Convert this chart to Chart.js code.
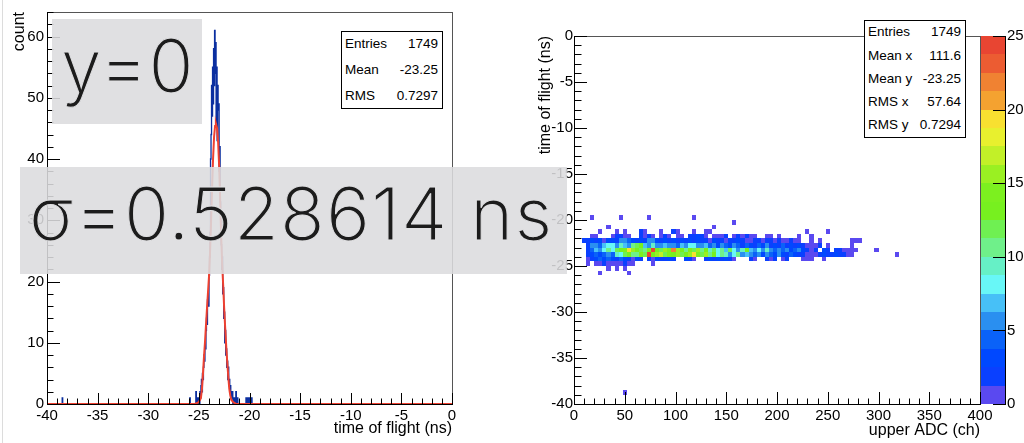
<!DOCTYPE html>
<html>
<head>
<meta charset="utf-8">
<script src="https://cdn.jsdelivr.net/npm/chart.js@4.4.1/dist/chart.umd.min.js"></script>
<style>
  body { margin: 0; background: #fff; width: 1024px; height: 443px; overflow: hidden; position: relative; font-family: "Liberation Sans", Arial, sans-serif; }
  canvas { position: absolute; top: 0; }
  #tofHist { left: 0; }
  #tofAdc { left: 520px; }
  .padline { position: absolute; left: 2px; top: 0; width: 1px; height: 443px; background: #dcdcdc; }
  .stats { position: absolute; box-sizing: border-box; background: #fff; border: 1px solid #000; font-size: 13.5px; color: #000; z-index: 2; }
  .stats div { position: absolute; left: 3px; right: 4px; height: 16px; line-height: 16px; white-space: nowrap; }
  .stats span { position: absolute; right: 0; }
  .tag { position: absolute; background: rgba(220, 220, 222, 0.88); z-index: 3; }
  .tag span { position: absolute; top: 10px; left: 9px; font-family: Inter, Roboto, sans-serif; font-weight: 300; font-size: 73px; line-height: 1; color: #1c1c1c; white-space: nowrap; -webkit-text-stroke: 1px #e0e0e2; }
</style>
</head>
<body>
<div class="padline"></div>
<canvas id="tofHist" width="520" height="443"></canvas>
<canvas id="tofAdc" width="504" height="443"></canvas>

<div class="stats" style="left:341px;top:31px;width:102px;height:78px">
  <div style="top:4px">Entries<span>1749</span></div>
  <div style="top:30px">Mean<span>-23.25</span></div>
  <div style="top:56px">RMS<span>0.7297</span></div>
</div>
<div class="stats" style="left:864px;top:20px;width:102px;height:118px">
  <div style="top:3px">Entries<span>1749</span></div>
  <div style="top:27px">Mean x<span>111.6</span></div>
  <div style="top:50px">Mean y<span>-23.25</span></div>
  <div style="top:73px">RMS x<span>57.64</span></div>
  <div style="top:96px">RMS y<span>0.7294</span></div>
</div>

<div class="tag" style="left:52px;top:19px;width:150px;height:105px"><span style="letter-spacing:1px">y=0</span></div>
<div class="tag" style="left:20px;top:167px;width:547px;height:107px"><span style="letter-spacing:1.3px">σ=0.528614 ns</span></div>

<script>
// ---- left pad: time of flight histogram (0.05 ns bins from -26 ns) ----
const tofStart = -26.0;
const tofBinWidth = 0.05;
const tofCounts = [
  0, 0, 1, 0, 0, 0, 0, 0, 0, 0,
  0, 0, 0, 0, 2, 1, 0, 1, 0, 0,
  1, 0, 2, 1, 3, 4, 2, 5, 4, 6,
  8, 7, 10, 9, 12, 14, 13, 17, 18, 16,
  21, 24, 28, 40, 44, 52, 47, 55, 49, 58,
  52, 61, 54, 59, 46, 55, 43, 52, 48, 49,
  38, 42, 33, 30, 26, 22, 24, 18, 19, 14,
  15, 10, 12, 8, 9, 6, 7, 4, 6, 3,
  4, 2, 3, 1, 2, 1, 2, 0, 1, 0,
  1, 0, 0, 2, 1, 0, 1, 0, 0, 0,
  0, 0, 0, 0, 0, 0, 0, 0, 0, 0,
  0, 0, 0, 1, 0, 0, 1, 0, 1, 0,
  0, 1, 1, 0, 1, 0, 0, 0, 0, 0
];
// lone entries far from the peak
const tofStrayX = [-38.5];
const tofStrayCounts = [1];

// gaussian fit curve
const fitX = [-40, -25.4, -25.1, -24.9, -24.8, -24.7, -24.6, -24.5, -24.4, -24.3, -24.2, -24.1, -24.0,
  -23.9, -23.8, -23.7, -23.6, -23.5, -23.4, -23.32, -23.2, -23.1, -23.0, -22.9, -22.8, -22.7,
  -22.6, -22.5, -22.4, -22.3, -22.2, -22.1, -22.0, -21.9, -21.8, -21.6, -21.3, 0];
const fitY = [0, 0, 0.2, 0.6, 1.0, 2.4, 4.8, 7.6, 10.0, 12.8, 15.6, 18.2, 20.8,
  24.6, 29.5, 35.0, 40.0, 43.6, 45.4, 45.8, 45.0, 42.8, 39.0, 33.5, 27.5, 22.8,
  19.4, 15.6, 12.4, 9.4, 6.9, 4.6, 2.5, 1.4, 0.7, 0.3, 0, 0];

// ---- right pad: time of flight vs upper ADC, 4 ch x 0.5 ns cells ----
const adcBinWidth = 4;
const tofCellHeight = 0.5;
// lower edge (ns) of each row below, one count per 4 ch bin starting at 0 ch
const rowLowEdges = [-20, -20.5, -21, -21.5, -22, -22.5, -23, -23.5, -24, -24.5, -25, -25.5, -26, -39];
const rowA = [0,0,0,0,1,0,0,0,0,0, 0,1,0,0,0,0,0,0,1,0, 0,0,0,0,0,0,0,0,0,1];
const rowB = [0,0,0,0,0,0,0,0,0,0, 0,0,0,0,0,0,0,0,0,0, 0,0,0,0,0,0,0,0,0,0, 0,0,0,0,0,0,0,0,0,1];
const rowC = [0,0,0,0,0,0,0,0,1,0, 0,0,0,0,0,0,0,0,0,0, 0,0,0,0,0,0,0,0,0,0, 0,0,0,0,1];
const rowD = [0,0,0,0,0,0,1,0,0,0, 1,0,1,0,0,0,2,1,0,0, 0,1,0,0,2,1,0,0,0,1,
  0,0,1,1,0,0,0,0,0,0, 0,0,0,0,0,0,0,0,0,0, 0,0,0,0,0,0,0,1,0,0, 0,0,1];
const rowE = [0,0,0,0,1,1,0,0,0,1, 2,2,1,1,0,0,2,1,2,1, 0,1,2,1,0,1,1,0,2,2,
  3,2,1,0,1,1,1,2,0,1, 2,1,2,1,1,0,0,1,1,0, 1,0,0,0,0,1,0,0,1];
const rowF = [0,0,2,2,3,2,3,1,3,3, 2,5,6,4,3,2,3,2,5,5, 3,2,3,2,3,2,3,2,3,2,
  3,2,2,1,3,2,2,1,2,2, 3,2,1,1,2,2,1,2,2,1, 2,1,1,2,1,1,0,0,1,0, 1,0,0,0,0,0,0,0,1,1, 1];
const rowG = [0,0,0,2,5,6,4,7,8,8, 5,9,7,6,10,12,13,7,6,9, 6,5,7,5,6,4,7,5,8,8,
  6,5,7,4,5,3,6,4,3,5, 4,2,4,3,2,4,3,5,2,3, 2,4,2,3,2,3,2,1,1,1, 2,0,1,0,0,0,0,0,1];
const rowH = [0,0,0,2,4,7,6,8,10,8, 12,13,14,19,15,13,12,10,14,24, 13,12,16,14,22,15,13,10,14,12,
  15,11,13,9,12,8,10,7,12,8, 6,9,13,7,5,8,6,9,5,4, 6,4,5,3,4,6,3,2,1,2, 0,3,2,0,2,2,1,1,1,1,
  0,0,0,0,1];
const rowI = [0,0,0,2,3,4,3,4,5,4, 9,8,12,13,10,11,14,12,24,13, 15,17,12,14,13,15,12,13,16,19,
  14,12,15,10,13,8,11,9,6,8, 10,5,7,6,4,6,3,5,4,3, 5,3,2,4,3,2,2,1,1,1, 2,3,2,2,3,2,2,1,1,0,
  0,0,0,0,0,0,0,0,0,1];
const rowJ = [0,0,0,1,2,3,4,3,4,3, 2,4,3,2,1,3,2,0,2,1, 3,2,2,3,2,0,0,3,2,1,
  0,0,2,3,2,3,2,3,2,1, 0,0,0,2,1,0,0,2,1,2, 0,1,2,0,0,0,1,1,1,0, 0,1];
const rowK = [0,0,0,1,0,1,1,2,1,1, 1,1,2,1,1,0,0,0,0,1];
const rowL = [0,0,0,0,0,0,0,0,1,0, 1,0,1];
const rowM = [0,0,0,0,0,0,1,0,0,0, 0,0,0,1];
const rowN = [0,0,0,0,0,0,0,0,0,0, 0,0,1];
const cellRows = [rowA, rowB, rowC, rowD, rowE, rowF, rowG, rowH, rowI, rowJ, rowK, rowL, rowM, rowN];

// colour palette, 20 levels over 0..25
const paletteMax = 25;
const paletteColors = ['#5a49f0', '#0a40ff', '#0048ff', '#0a62f8', '#2a8ff0', '#47c0f7', '#68f7f7', '#66f0c6',
  '#6ff08a', '#6ff052', '#77f01f', '#7cf01f', '#9af022', '#c2f028', '#e8f02e', '#f8e030',
  '#f4a230', '#f08232', '#ec5c32', '#e84532'];

Chart.defaults.font.family = '"Liberation Sans", Arial, sans-serif';
Chart.defaults.color = '#000';

//ticks hacia adentro, estilo ROOT
const rootAxes = {
  id: 'rootAxes',
  afterDatasetsDraw(chart, args, o) {
    const {ctx, chartArea: a} = chart;
    const sx = chart.scales.x, sy = chart.scales.y;
    ctx.save();
    ctx.lineWidth = 1;
    ctx.strokeStyle = '#555';
    ctx.strokeRect(a.left + 0.5, a.top + 0.5, a.right - a.left, a.bottom - a.top);
    ctx.strokeStyle = '#000';
    ctx.beginPath();
    ctx.moveTo(a.left + 0.5, a.top);
    ctx.lineTo(a.left + 0.5, a.bottom + 0.5);
    ctx.lineTo(a.right + 1, a.bottom + 0.5);
    const nx = Math.round((sx.max - sx.min) / o.xMinor);
    for (let k = 0; k <= nx; k++) {
      const px = Math.round(sx.getPixelForValue(sx.min + k * o.xMinor)) + 0.5;
      const len = k % o.xEvery === 0 ? o.xMajorLen : o.xMinorLen;
      ctx.moveTo(px, a.bottom);
      ctx.lineTo(px, a.bottom - len);
    }
    const ny = Math.round((sy.max - sy.min) / o.yMinor);
    for (let k = 0; k <= ny; k++) {
      const py = Math.round(sy.getPixelForValue(sy.min + k * o.yMinor)) + 0.5;
      const len = k % o.yEvery === 0 ? o.yMajorLen : o.yMinorLen;
      ctx.moveTo(a.left, py);
      ctx.lineTo(a.left + len, py);
    }
    ctx.stroke();
    ctx.restore();
  }
};

function colorFor(c) {
  return paletteColors[Math.min(paletteColors.length - 1, Math.floor(c / (paletteMax / paletteColors.length)))];
}

//celdas del histograma 2D
const heatCells = {
  id: 'heatCells',
  beforeDatasetsDraw(chart) {
    const {ctx, scales: {x, y}} = chart;
    ctx.save();
    chart.data.datasets[0].data.forEach(p => {
      const x0 = Math.round(x.getPixelForValue(p.x - adcBinWidth / 2));
      const x1 = Math.round(x.getPixelForValue(p.x + adcBinWidth / 2));
      const y0 = Math.round(y.getPixelForValue(p.y + tofCellHeight / 2));
      const y1 = Math.round(y.getPixelForValue(p.y - tofCellHeight / 2));
      ctx.fillStyle = colorFor(p.c);
      ctx.fillRect(x0, y0, x1 - x0, y1 - y0);
    });
    ctx.restore();
  }
};

//barra de colores
const paletteBar = {
  id: 'paletteBar',
  afterDatasetsDraw(chart) {
    const {ctx, chartArea: a} = chart;
    const z = chart.scales.z;
    const left = a.right + 1, right = a.right + 25;
    const step = paletteMax / paletteColors.length;
    ctx.save();
    paletteColors.forEach((col, k) => {
      const y0 = Math.round(z.getPixelForValue((k + 1) * step));
      const y1 = Math.round(z.getPixelForValue(k * step));
      ctx.fillStyle = col;
      ctx.fillRect(left, y0, right - left, y1 - y0);
    });
    ctx.strokeStyle = '#000';
    ctx.lineWidth = 1;
    ctx.beginPath();
    ctx.moveTo(right + 0.5, a.top);
    ctx.lineTo(right + 0.5, a.bottom + 1);
    for (let v = 0; v <= paletteMax; v += 5) {
      const py = Math.round(z.getPixelForValue(v)) + 0.5;
      ctx.moveTo(right, py);
      ctx.lineTo(right - 12, py);
    }
    ctx.stroke();
    ctx.restore();
  }
};

const tickFont = {size: 15};
const titleFont = {size: 16};
const noGrid = {display: false, drawTicks: false};

// histogram outline
const tofBins = new Array(Math.round(40 / tofBinWidth)).fill(0);
const tofOffset = Math.round((tofStart + 40) / tofBinWidth);
tofCounts.forEach((c, i) => { tofBins[tofOffset + i] = c; });
tofStrayX.forEach((x, i) => { tofBins[Math.round((x + 40) / tofBinWidth)] += tofStrayCounts[i]; });
const histPoints = tofBins.map((c, i) => ({x: -40 + i * tofBinWidth, y: c}));
histPoints.push({x: 0, y: 0});

new Chart(document.getElementById('tofHist'), {
  type: 'scatter',
  data: {
    datasets: [
      {
        label: 'fit',
        data: fitX.map((x, i) => ({x: x, y: fitY[i]})),
        showLine: true,
        borderColor: '#ef4130',
        borderWidth: 2,
        pointRadius: 0,
        tension: 0,
        order: 0
      },
      {
        label: 'time of flight',
        data: histPoints,
        showLine: true,
        stepped: true,
        borderColor: '#0b2fa0',
        borderWidth: 1.3,
        pointRadius: 0,
        order: 1
      }
    ]
  },
  options: {
    responsive: false,
    animation: false,
    devicePixelRatio: 1,
    layout: {padding: {top: 12, right: 68, left: 0, bottom: 0}},
    plugins: {
      legend: {display: false},
      tooltip: {enabled: false},
      rootAxes: {xMinor: 1, xEvery: 5, xMajorLen: 11, xMinorLen: 5.5, yMinor: 2, yEvery: 5, yMajorLen: 13, yMinorLen: 6.5}
    },
    scales: {
      x: {
        type: 'linear', min: -40, max: 0,
        grid: noGrid, border: {display: false},
        ticks: {stepSize: 5, includeBounds: false, padding: 3, font: tickFont, maxRotation: 0},
        title: {display: true, text: 'time of flight (ns)', align: 'end', font: titleFont, padding: {top: 0, bottom: 5}},
        afterFit(s) { s.height = 39; }
      },
      y: {
        type: 'linear', min: 0, max: 64,
        grid: noGrid, border: {display: false},
        ticks: {stepSize: 10, includeBounds: false, padding: 3, font: tickFont},
        title: {display: true, text: 'count', align: 'end', font: titleFont, padding: {top: 10, bottom: 0}},
        afterFit(s) { s.width = 47; }
      }
    }
  },
  plugins: [rootAxes]
});

// 2D cells
const cellPoints = [];
cellRows.forEach((row, r) => {
  row.forEach((c, b) => {
    if (c > 0) cellPoints.push({x: (b + 0.5) * adcBinWidth, y: rowLowEdges[r] + tofCellHeight / 2, c: c});
  });
});

new Chart(document.getElementById('tofAdc'), {
  type: 'scatter',
  data: {
    datasets: [{label: 'cells', data: cellPoints, pointRadius: 0, showLine: false}]
  },
  options: {
    responsive: false,
    animation: false,
    devicePixelRatio: 1,
    layout: {padding: {top: 12, right: 0, left: 0, bottom: 0}},
    plugins: {
      legend: {display: false},
      tooltip: {enabled: false},
      rootAxes: {xMinor: 10, xEvery: 5, xMajorLen: 12, xMinorLen: 5.5, yMinor: 1, yEvery: 5, yMajorLen: 13, yMinorLen: 7.5}
    },
    scales: {
      x: {
        type: 'linear', min: 0, max: 400,
        grid: noGrid, border: {display: false},
        ticks: {stepSize: 50, includeBounds: false, padding: 3, font: tickFont, maxRotation: 0},
        title: {display: true, text: 'upper ADC (ch)', align: 'end', font: titleFont, padding: {top: 0, bottom: 3}},
        afterFit(s) { s.height = 39; }
      },
      y: {
        type: 'linear', min: -40, max: 0,
        grid: noGrid, border: {display: false},
        ticks: {stepSize: 5, includeBounds: false, padding: 1, font: tickFont},
        title: {display: true, text: 'time of flight (ns)', align: 'end', font: titleFont, padding: {top: 16, bottom: 0}},
        afterFit(s) { s.width = 54; }
      },
      z: {
        type: 'linear', position: 'right', min: 0, max: paletteMax, display: true,
        grid: noGrid, border: {display: false},
        ticks: {stepSize: 5, includeBounds: false, padding: 27, font: tickFont},
        afterFit(s) { s.width = 44; }
      }
    }
  },
  plugins: [heatCells, rootAxes, paletteBar]
});
</script>
</body>
</html>
